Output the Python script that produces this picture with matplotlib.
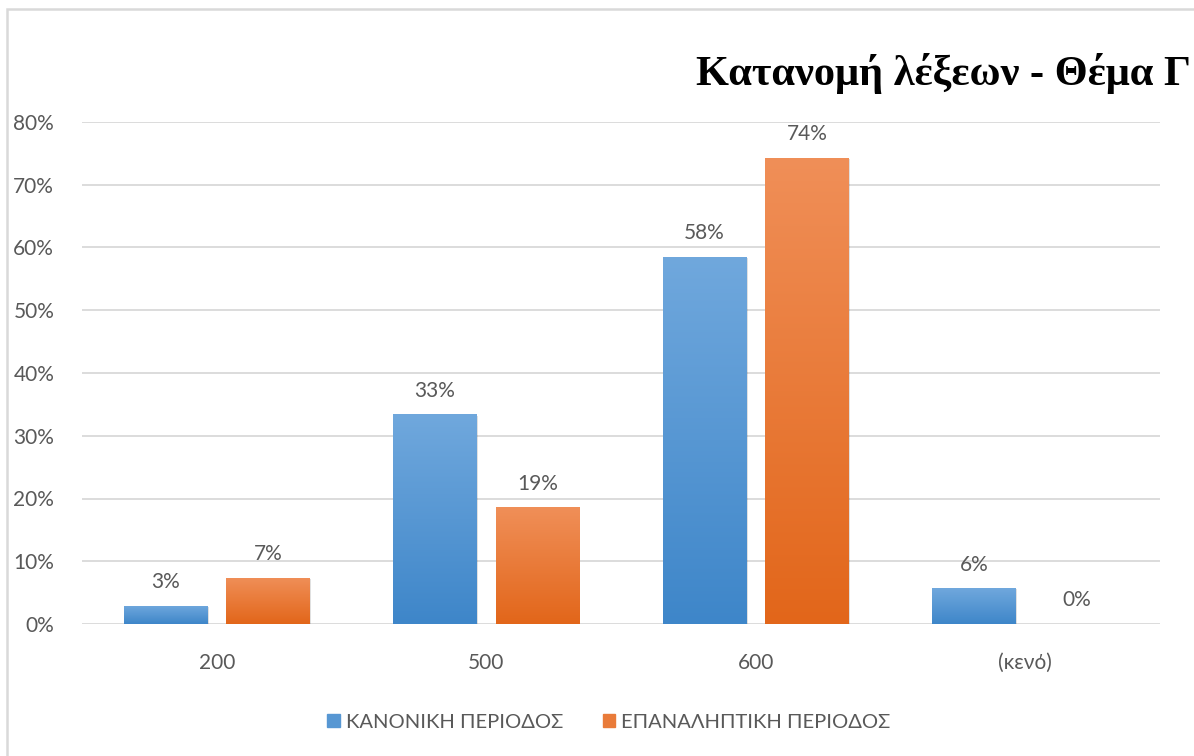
import numpy as np
import matplotlib.pyplot as plt
from matplotlib.patches import Rectangle
from matplotlib.colors import LinearSegmentedColormap

# Data
categories = ['200', '500', '600', '(κενό)']
normal = [0.029, 0.334, 0.585, 0.057]
repeat = [0.074, 0.186, 0.743, 0.0]
series_names = ['ΚΑΝΟΝΙΚΗ ΠΕΡΙΟΔΟΣ', 'ΕΠΑΝΑΛΗΠΤΙΚΗ ΠΕΡΙΟΔΟΣ']
yticks = [0, 0.1, 0.2, 0.3, 0.4, 0.5, 0.6, 0.7, 0.8]

plt.rcParams['font.family'] = ['Lato', 'DejaVu Sans']
text_col = '#595959'
grid_col = '#D9D9D9'

fig = plt.figure(figsize=(11.94, 7.56), dpi=100)
ax = fig.add_axes([82 / 1194, 1 - 624 / 756, 1078 / 1194, 502 / 756])

# chart border (right/bottom fall off the picture)
fig.patches.append(Rectangle((7 / 1194, -0.05), 1.1, 1 - 9 / 756 + 0.05,
                             transform=fig.transFigure, fill=False,
                             edgecolor=grid_col, linewidth=1.8, zorder=0))

x = np.arange(len(categories))
w = 0.311
off = 0.19

grads = [
    LinearSegmentedColormap.from_list('b', ['#3E86C9', '#70A8DD']),
    LinearSegmentedColormap.from_list('o', ['#E2661A', '#F08F58']),
]
grad = np.linspace(0, 1, 256).reshape(-1, 1)

for vals, sign, cmap in [(normal, -1, grads[0]), (repeat, 1, grads[1])]:
    bars = ax.bar(x + sign * off, vals, width=w, color=cmap(0.5), zorder=3)
    for b, v in zip(bars, vals):
        bx, bw, bh = b.get_x(), b.get_width(), b.get_height()
        if bh > 0:
            # soft shadow
            ax.add_patch(Rectangle((bx + 0.004, -0.002), bw, bh, color='#000000',
                                   alpha=0.12, zorder=2, linewidth=0))
            im = ax.imshow(grad, cmap=cmap, aspect='auto', origin='lower',
                           extent=[bx, bx + bw, 0, bh], zorder=3.5)
            im.set_clip_path(b)
        ax.annotate(f'{round(v * 100):.0f}%', (b.get_x() + bw / 2, bh),
                    xytext=(0, 17), textcoords='offset points',
                    ha='center', va='center', fontsize=15, color=text_col)

ax.set_xlim(-0.5, len(categories) - 0.5)
ax.set_ylim(0, 0.8)
ax.set_yticks(yticks)
ax.set_yticklabels([f'{round(t * 100)}%' for t in yticks])
ax.set_xticks(x)
ax.set_xticklabels(categories)
ax.tick_params(axis='both', length=0, labelsize=15, labelcolor=text_col)
ax.tick_params(axis='x', pad=21)
ax.tick_params(axis='y', pad=20)
ax.grid(axis='y', color=grid_col, linewidth=1.3, zorder=0)
ax.set_axisbelow(True)
for s in ax.spines.values():
    s.set_visible(False)

fig.text(0.9975, 1 - 74 / 756, 'Κατανομή λέξεων - Θέμα Γ', ha='right', va='center',
         fontsize=30.5, fontweight='bold', family=['Liberation Serif', 'DejaVu Serif'])

handles = [Rectangle((0, 0), 1, 1, color=grads[0](0.5)),
           Rectangle((0, 0), 1, 1, color=grads[1](0.5))]
fig.legend(handles, series_names, loc='center', bbox_to_anchor=(0.51, 1 - 722 / 756),
           ncol=2, frameon=False, fontsize=14.5, labelcolor=text_col,
           handlelength=0.6, handleheight=0.6, handletextpad=0.3, columnspacing=2.0)

fig.savefig('out.png', dpi=100)
